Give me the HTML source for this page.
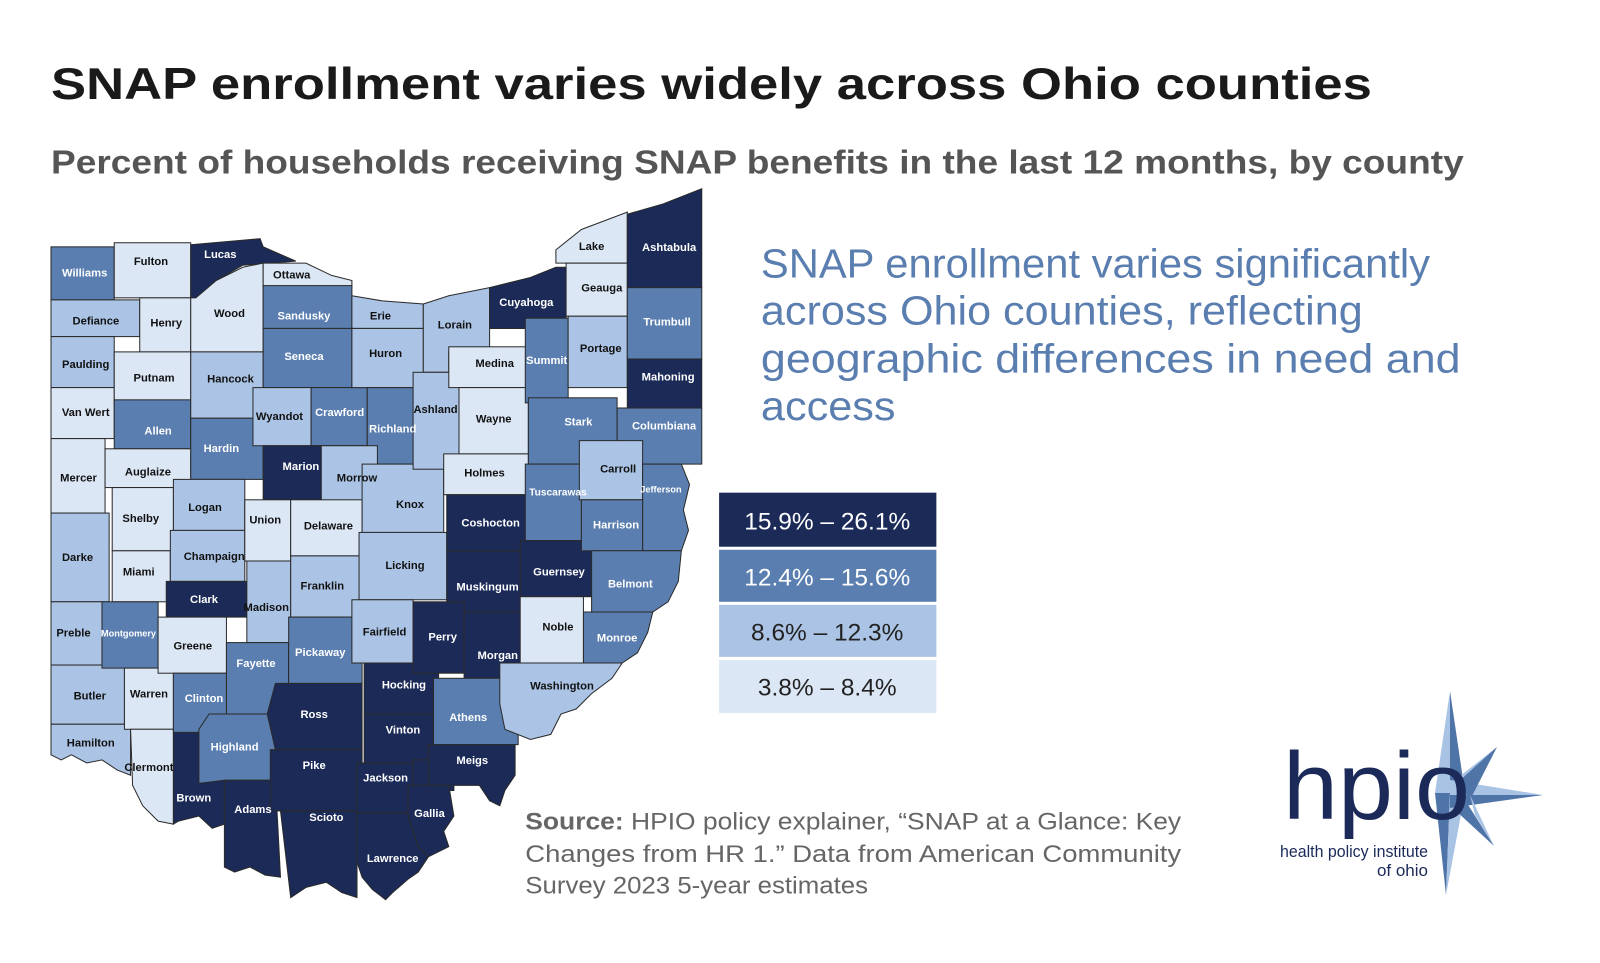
<!DOCTYPE html>
<html><head><meta charset="utf-8"><style>
html,body{margin:0;padding:0;background:#fff;width:1600px;height:963px;overflow:hidden}
svg{display:block}
</style></head><body>
<svg width="1600" height="963" viewBox="0 0 1600 963" xmlns="http://www.w3.org/2000/svg" font-family="Liberation Sans, sans-serif">
<rect width="1600" height="963" fill="#fff"/>
<g transform="scale(1.02)">
<text x="50" y="97" font-size="44" font-weight="bold" fill="#1a1a1a" textLength="1295" lengthAdjust="spacingAndGlyphs">SNAP enrollment varies widely across Ohio counties</text>
<text x="50" y="170" font-size="33" font-weight="bold" fill="#555" textLength="1385" lengthAdjust="spacingAndGlyphs">Percent of households receiving SNAP benefits in the last 12 months, by county</text>

<g stroke="#2a2a2a" stroke-width="1">
<rect x="50" y="242" width="62" height="52" fill="#5a7eaf"/>
<rect x="50" y="294" width="87" height="36" fill="#abc4e5"/>
<rect x="50" y="330" width="62" height="50" fill="#abc4e5"/>
<rect x="50" y="380" width="62" height="50" fill="#dce7f6"/>
<rect x="50" y="430" width="53" height="73" fill="#dce7f6"/>
<rect x="50" y="503" width="57" height="87" fill="#abc4e5"/>
<rect x="50" y="590" width="50" height="62" fill="#abc4e5"/>
<rect x="50" y="652" width="72" height="58" fill="#abc4e5"/>
<polygon points="50,710 128,710 128,760 115,755 100,745 85,748 70,740 60,745 50,740" fill="#abc4e5"/>
<rect x="112" y="238" width="75" height="54" fill="#dce7f6"/>
<rect x="137" y="292" width="50" height="53" fill="#dce7f6"/>
<rect x="112" y="345" width="75" height="50" fill="#dce7f6"/>
<rect x="112" y="392" width="75" height="48" fill="#5a7eaf"/>
<rect x="103" y="440" width="84" height="38" fill="#dce7f6"/>
<rect x="110" y="478" width="60" height="62" fill="#dce7f6"/>
<rect x="110" y="540" width="57" height="50" fill="#dce7f6"/>
<rect x="100" y="590" width="55" height="65" fill="#5a7eaf"/>
<rect x="122" y="655" width="48" height="60" fill="#dce7f6"/>
<polygon points="128,715 170,715 170,808 155,805 140,790 130,770" fill="#dce7f6"/>
<polygon points="170,715 220,715 220,808 208,812 195,800 175,805 170,808" fill="#1b2a57"/>
<polygon points="187,240 255,234 258,242 290,256 238,260 212,275 192,292 187,292" fill="#1b2a57"/>
<polygon points="187,292 192,292 212,275 238,262 258,258 258,345 187,345" fill="#dce7f6"/>
<rect x="187" y="345" width="71" height="65" fill="#abc4e5"/>
<rect x="187" y="410" width="71" height="60" fill="#5a7eaf"/>
<rect x="170" y="470" width="70" height="50" fill="#abc4e5"/>
<rect x="167" y="520" width="73" height="50" fill="#abc4e5"/>
<rect x="163" y="570" width="79" height="35" fill="#1b2a57"/>
<rect x="155" y="605" width="67" height="55" fill="#dce7f6"/>
<rect x="170" y="660" width="52" height="58" fill="#5a7eaf"/>
<polygon points="205,700 270,700 270,765 220,765 195,768 195,715" fill="#5a7eaf"/>
<polygon points="220,765 270,765 275,860 260,858 245,850 230,855 220,850" fill="#1b2a57"/>
<polygon points="258,258 300,258 325,270 345,275 345,282 258,282" fill="#dce7f6"/>
<rect x="258" y="280" width="87" height="42" fill="#5a7eaf"/>
<rect x="258" y="322" width="87" height="58" fill="#5a7eaf"/>
<rect x="248" y="380" width="57" height="57" fill="#abc4e5"/>
<rect x="305" y="380" width="55" height="57" fill="#5a7eaf"/>
<rect x="258" y="437" width="57" height="53" fill="#1b2a57"/>
<rect x="240" y="490" width="45" height="60" fill="#dce7f6"/>
<rect x="242" y="550" width="43" height="80" fill="#abc4e5"/>
<rect x="222" y="630" width="61" height="70" fill="#5a7eaf"/>
<polygon points="270,670 355,670 355,735 270,735 262,700" fill="#1b2a57"/>
<rect x="265" y="735" width="90" height="60" fill="#1b2a57"/>
<polygon points="275,795 350,795 350,880 335,875 320,865 300,870 285,880" fill="#1b2a57"/>
<polygon points="345,290 375,295 415,298 415,322 345,322" fill="#abc4e5"/>
<rect x="345" y="322" width="70" height="58" fill="#abc4e5"/>
<rect x="360" y="380" width="55" height="75" fill="#5a7eaf"/>
<rect x="315" y="437" width="55" height="58" fill="#abc4e5"/>
<rect x="285" y="490" width="70" height="55" fill="#dce7f6"/>
<rect x="285" y="545" width="70" height="60" fill="#abc4e5"/>
<rect x="283" y="605" width="72" height="65" fill="#5a7eaf"/>
<rect x="355" y="455" width="80" height="67" fill="#abc4e5"/>
<rect x="352" y="522" width="86" height="66" fill="#abc4e5"/>
<rect x="345" y="588" width="60" height="62" fill="#abc4e5"/>
<rect x="357" y="650" width="73" height="50" fill="#1b2a57"/>
<rect x="357" y="700" width="68" height="48" fill="#1b2a57"/>
<rect x="350" y="748" width="60" height="49" fill="#1b2a57"/>
<rect x="405" y="745" width="40" height="30" fill="#1b2a57"/>
<polygon points="350,797 420,797 420,840 410,855 400,862 385,875 378,882 365,872 355,860 350,845" fill="#1b2a57"/>
<polygon points="415,298 440,290 480,282 480,345 440,345 440,365 415,365" fill="#abc4e5"/>
<rect x="405" y="365" width="45" height="95" fill="#abc4e5"/>
<rect x="440" y="340" width="78" height="40" fill="#dce7f6"/>
<rect x="450" y="380" width="68" height="65" fill="#dce7f6"/>
<rect x="435" y="445" width="83" height="40" fill="#dce7f6"/>
<rect x="438" y="485" width="80" height="55" fill="#1b2a57"/>
<rect x="438" y="540" width="72" height="60" fill="#1b2a57"/>
<rect x="405" y="590" width="50" height="70" fill="#1b2a57"/>
<rect x="455" y="600" width="58" height="65" fill="#1b2a57"/>
<rect x="425" y="665" width="83" height="65" fill="#5a7eaf"/>
<polygon points="420,730 505,730 505,760 495,775 490,790 480,785 470,770 440,770 420,770" fill="#1b2a57"/>
<polygon points="400,770 440,770 445,800 435,815 440,830 420,840 410,830 400,800" fill="#1b2a57"/>
<polygon points="480,282 520,272 545,262 555,262 555,312 515,312 515,322 480,322" fill="#1b2a57"/>
<rect x="515" y="312" width="42" height="83" fill="#5a7eaf"/>
<rect x="518" y="390" width="87" height="65" fill="#5a7eaf"/>
<rect x="515" y="455" width="55" height="75" fill="#5a7eaf"/>
<rect x="510" y="530" width="70" height="55" fill="#1b2a57"/>
<rect x="510" y="585" width="62" height="65" fill="#dce7f6"/>
<polygon points="490,650 610,650 600,665 580,680 565,695 550,700 540,720 520,725 495,715 490,690" fill="#abc4e5"/>
<polygon points="545,245 570,225 615,208 615,258 545,258" fill="#dce7f6"/>
<rect x="555" y="258" width="60" height="52" fill="#dce7f6"/>
<rect x="557" y="310" width="58" height="70" fill="#abc4e5"/>
<polygon points="615,210 650,200 688,185 688,282 615,282" fill="#1b2a57"/>
<rect x="615" y="282" width="73" height="70" fill="#5a7eaf"/>
<rect x="615" y="352" width="73" height="48" fill="#1b2a57"/>
<rect x="605" y="400" width="83" height="55" fill="#5a7eaf"/>
<rect x="568" y="432" width="62" height="58" fill="#abc4e5"/>
<polygon points="630,455 668,455 676,475 670,500 675,520 668,540 630,540" fill="#5a7eaf"/>
<rect x="570" y="490" width="60" height="50" fill="#5a7eaf"/>
<polygon points="580,540 668,540 665,570 655,590 640,600 580,600" fill="#5a7eaf"/>
<polygon points="572,600 640,600 635,620 625,640 610,650 572,650" fill="#5a7eaf"/>
</g>

<g font-size="11" font-weight="bold" text-anchor="middle">
<g fill="#111">
<text x="148" y="260">Fulton</text><text x="94" y="318">Defiance</text><text x="163" y="320">Henry</text>
<text x="84" y="361">Paulding</text><text x="151" y="374">Putnam</text><text x="84" y="408">Van Wert</text>
<text x="77" y="472">Mercer</text><text x="145" y="466">Auglaize</text><text x="138" y="512">Shelby</text>
<text x="76" y="550">Darke</text><text x="136" y="564">Miami</text><text x="72" y="624">Preble</text>
<text x="88" y="686">Butler</text><text x="146" y="684">Warren</text><text x="89" y="732">Hamilton</text>
<text x="146" y="756">Clermont</text><text x="225" y="311">Wood</text><text x="226" y="375">Hancock</text>
<text x="201" y="501">Logan</text><text x="210" y="549">Champaign</text><text x="189" y="637">Greene</text>
<text x="260" y="513">Union</text><text x="261" y="599">Madison</text><text x="286" y="273">Ottawa</text>
<text x="274" y="412">Wyandot</text><text x="350" y="472">Morrow</text><text x="322" y="519">Delaware</text>
<text x="316" y="578">Franklin</text><text x="373" y="313">Erie</text><text x="378" y="350">Huron</text>
<text x="402" y="498">Knox</text><text x="397" y="558">Licking</text><text x="377" y="623">Fairfield</text>
<text x="446" y="322">Lorain</text><text x="427" y="405">Ashland</text><text x="485" y="360">Medina</text>
<text x="484" y="414">Wayne</text><text x="475" y="467">Holmes</text><text x="547" y="618">Noble</text>
<text x="551" y="676">Washington</text><text x="580" y="245">Lake</text><text x="590" y="286">Geauga</text>
<text x="589" y="345">Portage</text><text x="606" y="463">Carroll</text>
</g>
<g fill="#fff">
<text x="83" y="271">Williams</text><text x="216" y="253">Lucas</text><text x="155" y="426">Allen</text>
<text x="126" y="624" font-size="9">Montgomery</text><text x="217" y="443">Hardin</text><text x="200" y="591">Clark</text>
<text x="200" y="688">Clinton</text><text x="230" y="736">Highland</text><text x="190" y="786">Brown</text>
<text x="248" y="797">Adams</text><text x="298" y="313">Sandusky</text><text x="298" y="353">Seneca</text>
<text x="333" y="408">Crawford</text><text x="295" y="461">Marion</text><text x="251" y="654">Fayette</text>
<text x="314" y="643">Pickaway</text><text x="308" y="704">Ross</text><text x="308" y="754">Pike</text>
<text x="320" y="805">Scioto</text><text x="385" y="424">Richland</text><text x="396" y="675">Hocking</text>
<text x="395" y="719">Vinton</text><text x="378" y="766">Jackson</text><text x="385" y="845">Lawrence</text>
<text x="481" y="516">Coshocton</text><text x="478" y="579">Muskingum</text><text x="434" y="628">Perry</text>
<text x="488" y="646">Morgan</text><text x="459" y="707">Athens</text><text x="463" y="749">Meigs</text>
<text x="421" y="801">Gallia</text><text x="516" y="300">Cuyahoga</text><text x="536" y="357">Summit</text>
<text x="567" y="417">Stark</text><text x="547" y="486" font-size="10">Tuscarawas</text><text x="548" y="564">Guernsey</text>
<text x="656" y="246">Ashtabula</text><text x="654" y="319">Trumbull</text><text x="655" y="373">Mahoning</text>
<text x="651" y="421">Columbiana</text><text x="648" y="483" font-size="9">Jefferson</text><text x="604" y="518">Harrison</text>
<text x="618" y="576">Belmont</text><text x="605" y="629">Monroe</text>
</g>
</g>

<g font-size="40" fill="#5a7eaf">
<text x="746" y="272" textLength="656" lengthAdjust="spacingAndGlyphs">SNAP enrollment varies significantly</text>
<text x="746" y="318" textLength="590" lengthAdjust="spacingAndGlyphs">across Ohio counties, reflecting</text>
<text x="746" y="365" textLength="686" lengthAdjust="spacingAndGlyphs">geographic differences in need and</text>
<text x="746" y="412" textLength="132" lengthAdjust="spacingAndGlyphs">access</text>
</g>

<rect x="705" y="483" width="213" height="53" fill="#1b2a57"/>
<rect x="705" y="539" width="213" height="51" fill="#5a7eaf"/>
<rect x="705" y="593" width="213" height="51" fill="#abc4e5"/>
<rect x="705" y="647" width="213" height="52" fill="#dce7f6"/>
<g font-size="24" text-anchor="middle">
<text x="811" y="519" fill="#fff">15.9% – 26.1%</text>
<text x="811" y="574" fill="#fff">12.4% – 15.6%</text>
<text x="811" y="628" fill="#222">8.6% – 12.3%</text>
<text x="811" y="682" fill="#222">3.8% – 8.4%</text>
</g>

<g font-size="24" fill="#666">
<text x="515" y="813" textLength="643" lengthAdjust="spacingAndGlyphs"><tspan font-weight="bold">Source:</tspan> HPIO policy explainer, “SNAP at a Glance: Key</text>
<text x="515" y="845" textLength="643" lengthAdjust="spacingAndGlyphs">Changes from HR 1.” Data from American Community</text>
<text x="515" y="876" textLength="336" lengthAdjust="spacingAndGlyphs">Survey 2023 5-year estimates</text>
</g>
</g>

<g>
<polygon points="1450,691 1465,793 1450,793" fill="#4f74a8"/>
<polygon points="1450,691 1435,793 1450,793" fill="#a9c3e4"/>
<polygon points="1446,895 1435,793 1450,793" fill="#4f74a8"/>
<polygon points="1446,895 1465,793 1450,793" fill="#a9c3e4"/>
<polygon points="1543,795 1450,780 1450,795" fill="#a9c3e4"/>
<polygon points="1543,795 1450,808 1450,795" fill="#4f74a8"/>
<polygon points="1497,747 1455,780 1465,790" fill="#a9c3e4"/>
<polygon points="1497,747 1470,800 1458,782" fill="#4f74a8"/>
<polygon points="1494,846 1465,800 1455,810" fill="#4f74a8"/>
<polygon points="1494,846 1470,795 1475,815" fill="#a9c3e4"/>
<text x="1283" y="819" font-size="96" fill="#1c2a5a" textLength="187" lengthAdjust="spacingAndGlyphs">hpio</text>
<text x="1280" y="857" font-size="17" fill="#1c2a5a" textLength="148" lengthAdjust="spacingAndGlyphs">health policy institute</text>
<text x="1428" y="876" font-size="17" fill="#1c2a5a" text-anchor="end">of ohio</text>
</g>
</svg>
</body></html>
